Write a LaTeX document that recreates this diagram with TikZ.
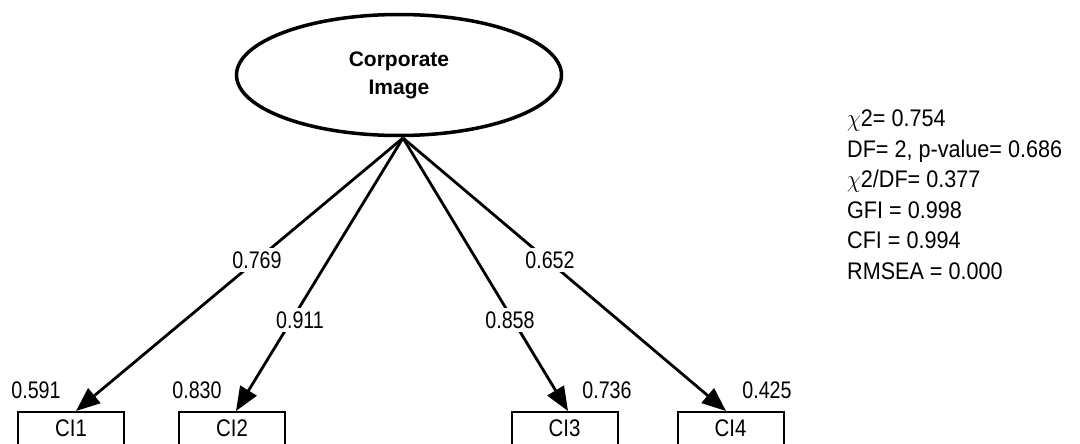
\documentclass[tikz,border=0pt]{standalone}
\usepackage{fontspec}
\setmainfont{Liberation Sans}
\usetikzlibrary{arrows.meta,shapes.geometric}
\begin{document}
\begin{tikzpicture}[x=1pt,y=-1pt,
  lat/.style={draw,line width=3.5pt,ellipse,minimum width=325pt,minimum height=121pt,inner sep=0pt,align=center,font=\fontsize{21}{28}\selectfont\bfseries},
  obs/.style={draw,line width=2pt,minimum width=106pt,minimum height=50pt,anchor=north,inner sep=0pt,text depth=0pt},
  obstext/.style={font=\fontsize{24}{25}\selectfont,xscale=0.85},
  lbl/.style={font=\fontsize{24}{25}\selectfont,xscale=0.82,inner xsep=1pt,inner ysep=4pt,fill=white},
  lblr/.style={font=\fontsize{24}{25}\selectfont,xscale=0.82,inner sep=0pt},
  stat/.style={font=\fontsize{24}{30.5}\selectfont,xscale=0.9,anchor=north west,align=left,inner sep=0pt},
  path/.style={line width=2.8pt,-{Triangle[length=24pt,width=19pt]}}]
\useasboundingbox (0,0) rectangle (1080,444);
\node[lat] (F) at (399,75) {Corporate\\Image};
\coordinate (s) at (403,138);
\node[obs] (c1) at (71,411) {};
\node[obs] (c2) at (232,411) {};
\node[obs] (c3) at (564.5,411) {};
\node[obs] (c4) at (730.5,411) {};
\node[obstext] (t1) at (71,428) {CI1};
\node[obstext] (t2) at (232,428) {CI2};
\node[obstext] (t3) at (564.5,428) {CI3};
\node[obstext] (t4) at (730.5,428) {CI4};
\coordinate (e1) at (76,411);
\coordinate (e2) at (236,411);
\coordinate (e3) at (568,411);
\coordinate (e4) at (726,411);
\draw[path] (s) -- (e1);
\draw[path] (s) -- (e2);
\draw[path] (s) -- (e3);
\draw[path] (s) -- (e4);
\node[lbl] (l1) at (257,260) {0.769};
\node[lbl] (l2) at (300,320) {0.911};
\node[lbl] (l3) at (510,320) {0.858};
\node[lbl] (l4) at (550,260) {0.652};
\node[lblr] (r1) at (36,390) {0.591};
\node[lblr] (r2) at (197,390) {0.830};
\node[lblr] (r3) at (607,390) {0.736};
\node[lblr] (r4) at (767,390) {0.425};
\node[stat] (fit) at (847,110) {$\chi$2= 0.754\\DF= 2, p-value= 0.686\\$\chi$2/DF= 0.377\\GFI = 0.998\\CFI = 0.994\\RMSEA = 0.000};
\end{tikzpicture}
\end{document}
